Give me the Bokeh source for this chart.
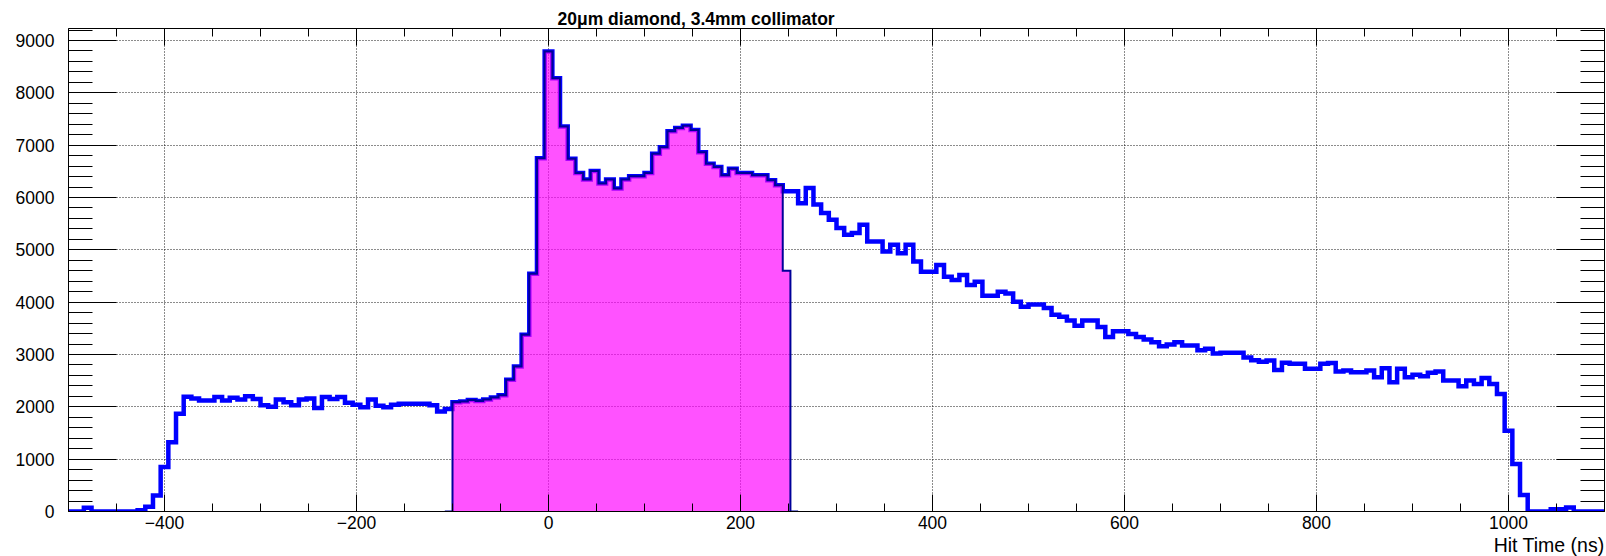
import numpy as np
from bokeh.plotting import figure
from bokeh.models import Range1d, LinearAxis, FixedTicker, Title, CustomJSTickFormatter
from bokeh.embed import file_html
from bokeh.resources import INLINE

# ---------------- data ----------------
bin_low = -500
bin_width = 8
n_bins = 200

# all hits, 8 ns bins from -500 to 1100
hit_counts = [
    0, 0, 70, 0, 0, 0, 0, 0, 0, 25,
    90, 306, 850, 1325, 1870, 2195, 2160, 2120, 2120, 2190,
    2120, 2175, 2140, 2200, 2150, 2030, 2000, 2140, 2090, 2030,
    2140, 2160, 1980, 2190, 2150, 2190, 2080, 2040, 1990, 2140,
    2020, 1990, 2040, 2060, 2060, 2060, 2060, 2030, 1910, 1960,
    2090, 2100, 2130, 2110, 2140, 2180, 2220, 2516, 2771, 3376,
    4541, 6752, 8790, 8280, 7357, 6740, 6468, 6342, 6506, 6266,
    6342, 6171, 6342, 6405, 6405, 6468, 6835, 6962, 7266, 7329,
    7373, 7291, 6867, 6646, 6582, 6424, 6551, 6468, 6468, 6424,
    6424, 6329, 6234, 6120, 6120, 5890, 6180, 5865, 5705, 5577,
    5417, 5288, 5320, 5481, 5160, 5160, 4968, 5096, 4936, 5096,
    4776, 4583, 4583, 4712, 4487, 4423, 4519, 4327, 4391, 4121,
    4121, 4197, 4166, 4006, 3911, 3955, 3955, 3890, 3760, 3720,
    3652, 3551, 3652, 3652, 3525, 3335, 3443, 3443, 3392, 3335,
    3285, 3234, 3158, 3190, 3234, 3171, 3171, 3082, 3108, 3019,
    3032, 3032, 3032, 2943, 2892, 2861, 2886, 2703, 2842, 2823,
    2823, 2728, 2728, 2825, 2840, 2675, 2694, 2662, 2662, 2694,
    2566, 2738, 2470, 2726, 2566, 2611, 2585, 2649, 2675, 2502,
    2502, 2394, 2502, 2438, 2553, 2438, 2247, 1545, 907, 313,
    0, 0, 0, 45, 45, 77, 0, 0, 0, 0,
]

# gated hits (-100 .. 252 ns), first bin index 50
gate_first_bin = 50
gate_counts = [
    2090, 2100, 2130, 2110, 2140, 2180, 2220, 2516, 2771, 3376,
    4541, 6752, 8790, 8280, 7357, 6740, 6468, 6342, 6506, 6266,
    6342, 6171, 6342, 6405, 6405, 6468, 6835, 6962, 7266, 7329,
    7373, 7291, 6867, 6646, 6582, 6424, 6551, 6468, 6468, 6424,
    6424, 6329, 6234, 4600,
]

x_major_ticks = [-400, -200, 0, 200, 400, 600, 800, 1000]
x_tick_labels = ["\u2212400", "\u2212200", "0", "200", "400", "600", "800", "1000"]
x_minor_ticks = list(range(-500, 1101, 50))
y_major_ticks = [0, 1000, 2000, 3000, 4000, 5000, 6000, 7000, 8000, 9000]
y_tick_labels = ["0", "1000", "2000", "3000", "4000", "5000", "6000", "7000", "8000", "9000"]
y_minor_ticks = list(range(0, 9201, 200))

title_text = "20\u03bcm diamond, 3.4mm collimator"
x_title_text = "Hit Time (ns)"

# ---------------- derived ----------------
edges = bin_low + bin_width * np.arange(n_bins + 1)
counts = np.array(hit_counts, dtype=float)
gate = np.zeros(n_bins)
gate_last_bin = gate_first_bin + len(gate_counts)
gate[gate_first_bin:gate_last_bin] = gate_counts
counts_ext = np.append(counts, counts[-1])
gate_ext = np.append(gate, gate[-1])
# outline of the gated histogram only around its non-empty part
g_lo, g_hi = gate_first_bin - 1, gate_last_bin + 2
gate_line_x = edges[g_lo:g_hi]
gate_line_y = gate_ext[g_lo:g_hi]

FONT = "Liberation Sans"

p = figure(width=1606, height=556,
           x_range=Range1d(edges[0], edges[-1]),
           y_range=Range1d(0, 1.05 * counts.max()),
           output_backend="svg", toolbar_location=None,
           min_border_left=68, min_border_right=2,
           min_border_top=28, min_border_bottom=45,
           background_fill_color="white", border_fill_color="white",
           outline_line_color=None)

# grid
p.xgrid.ticker = FixedTicker(ticks=x_major_ticks)
p.ygrid.ticker = FixedTicker(ticks=y_major_ticks)
p.grid.grid_line_color = "black"
p.grid.grid_line_width = 1
p.grid.grid_line_dash = "1 2"
p.grid.grid_line_alpha = 0.9

# histograms
p.step(x=edges, y=counts_ext, mode="after", line_color="#0000ff",
       line_width=4.5, line_join="miter")
p.varea_step(x=edges, y1=np.zeros(n_bins + 1), y2=gate_ext, step_mode="after",
             fill_color="#ff00ff", fill_alpha=0.68)
p.step(x=gate_line_x, y=gate_line_y, mode="after", line_color="#000099",
       line_width=2, line_join="miter")


def style_axis(ax, major, minor, tick_in, minor_in, labels, standoff):
    ax.ticker = FixedTicker(ticks=major, minor_ticks=minor)
    ax.major_tick_in = tick_in
    ax.major_tick_out = 0
    ax.minor_tick_in = minor_in
    ax.minor_tick_out = 0
    ax.axis_line_color = "black"
    ax.axis_line_width = 1
    ax.major_tick_line_color = "black"
    ax.minor_tick_line_color = "black"
    ax.major_tick_line_width = 1
    ax.minor_tick_line_width = 1
    ax.major_label_standoff = standoff
    if labels is None:
        ax.formatter = CustomJSTickFormatter(code="return ''")
        ax.major_label_text_font_size = "0px"
    else:
        ax.major_label_overrides = {t: l for t, l in zip(major, labels)}
        ax.major_label_text_font = FONT
        ax.major_label_text_font_size = "17.5px"
        ax.major_label_text_color = "black"


style_axis(p.xaxis[0], x_major_ticks, x_minor_ticks, 17, 8, x_tick_labels, 4)
style_axis(p.yaxis[0], y_major_ticks, y_minor_ticks, 48, 24, y_tick_labels, 14)

top_ax = LinearAxis()
style_axis(top_ax, x_major_ticks, x_minor_ticks, 17, 8, None, 0)
p.add_layout(top_ax, "above")
right_ax = LinearAxis()
style_axis(right_ax, y_major_ticks, y_minor_ticks, 48, 24, None, 0)
p.add_layout(right_ax, "right")

# texts
p.title.text = title_text
p.title.align = "left"
p.title.offset = 489
p.title.standoff = 0
p.title.text_font = FONT
p.title.text_font_style = "bold"
p.title.text_font_size = "17.5px"
p.title.text_color = "black"

p.add_layout(Title(text=x_title_text, align="right", standoff=0,
                   text_font=FONT, text_font_style="normal",
                   text_font_size="19.5px", text_color="black"), "below")

open("out.html", "w").write(file_html(p, INLINE))
